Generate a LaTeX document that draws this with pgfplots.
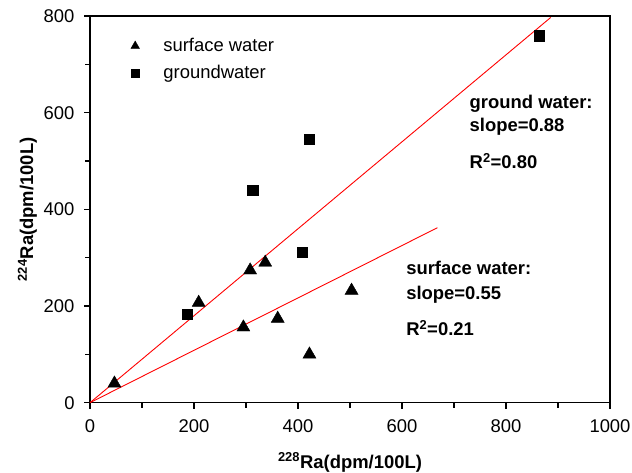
\documentclass[border=0pt]{standalone}
\usepackage{fontspec}
\setmainfont{Liberation Sans}
\usepackage{pgfplots}
\pgfplotsset{compat=1.18}
\begin{document}
\fontsize{18.5}{22}\selectfont
\begin{tikzpicture}
\path[use as bounding box] (-90bp,-70.3bp) rectangle (542bp,402.7bp);
\begin{axis}[
  at={(0,0)}, anchor=south west,
  scale only axis, width=520bp, height=386.7bp,
  xmin=0, xmax=1000, ymin=0, ymax=800,
  xtick={0,200,...,1000}, ytick={0,200,...,800},
  minor tick num=1,
  tick align=outside,
  tick pos=left,
  major tick length=6bp, minor tick length=5bp,
  axis line style={line width=1.5bp},
  every tick/.style={black, line width=1.5bp},
  /pgf/number format/assume math mode=true,
  /pgf/number format/1000 sep={},
  scaled ticks=false,
  xticklabel style={anchor=north, inner sep=0pt, yshift=-10.5bp},
  yticklabel style={anchor=east, inner sep=0pt, xshift=-9.3bp},
  xlabel={\textbf{\textsuperscript{228}Ra(dpm/100L)}},
  ylabel={\textbf{\textsuperscript{224}Ra(dpm/100L)}},
  xlabel style={at={(axis description cs:0.5,-0.169)}, anchor=base, inner sep=0pt},
  ylabel style={at={(axis description cs:-0.1096,0.5)}, anchor=base, inner sep=0pt},
  legend style={draw=none, fill=none, at={(axis description cs:0.0708,0.954)}, anchor=north west, row sep=7bp, font=\fontsize{18.5}{22}\selectfont},
  legend cell align=left,
  legend image code/.code={\path (-5bp,0bp) (26bp,0bp); \draw[#1] plot coordinates {(0bp,0bp)};},
]
\addlegendimage{only marks, mark=triangle*, mark size=5bp, black}
\addlegendentry{surface water}
\addlegendimage{only marks, mark=square*, mark size=3.6bp, black}
\addlegendentry{groundwater}

\addplot[forget plot, red, line width=0.9bp] coordinates {(0,0) (886,797)};
\addplot[forget plot, red, line width=0.9bp] coordinates {(0,0) (668,362)};

\addplot[forget plot, only marks, mark=triangle*, mark size=7.5bp, black] coordinates {
(47,40) (209,207) (308,274) (337,290) (295,156) (361,174) (422,100) (503,232)
};
\addplot[forget plot, only marks, mark=square*, mark size=5.2bp, black] coordinates {
(187,183) (408,311) (313,440) (421,545) (864,759)
};

\node[anchor=base west, font=\bfseries] at (axis cs:718,609.6) {ground water:};
\node[anchor=base west, font=\bfseries] at (axis cs:718,560.6) {slope=0.88};
\node[anchor=base west, font=\bfseries] at (axis cs:718,484.9) {R\textsuperscript{2}=0.80};
\node[anchor=base west, font=\bfseries] at (axis cs:596,264.2) {surface water:};
\node[anchor=base west, font=\bfseries] at (axis cs:596,214.5) {slope=0.55};
\node[anchor=base west, font=\bfseries] at (axis cs:596,138) {R\textsuperscript{2}=0.21};
\end{axis}
\end{tikzpicture}
\end{document}
